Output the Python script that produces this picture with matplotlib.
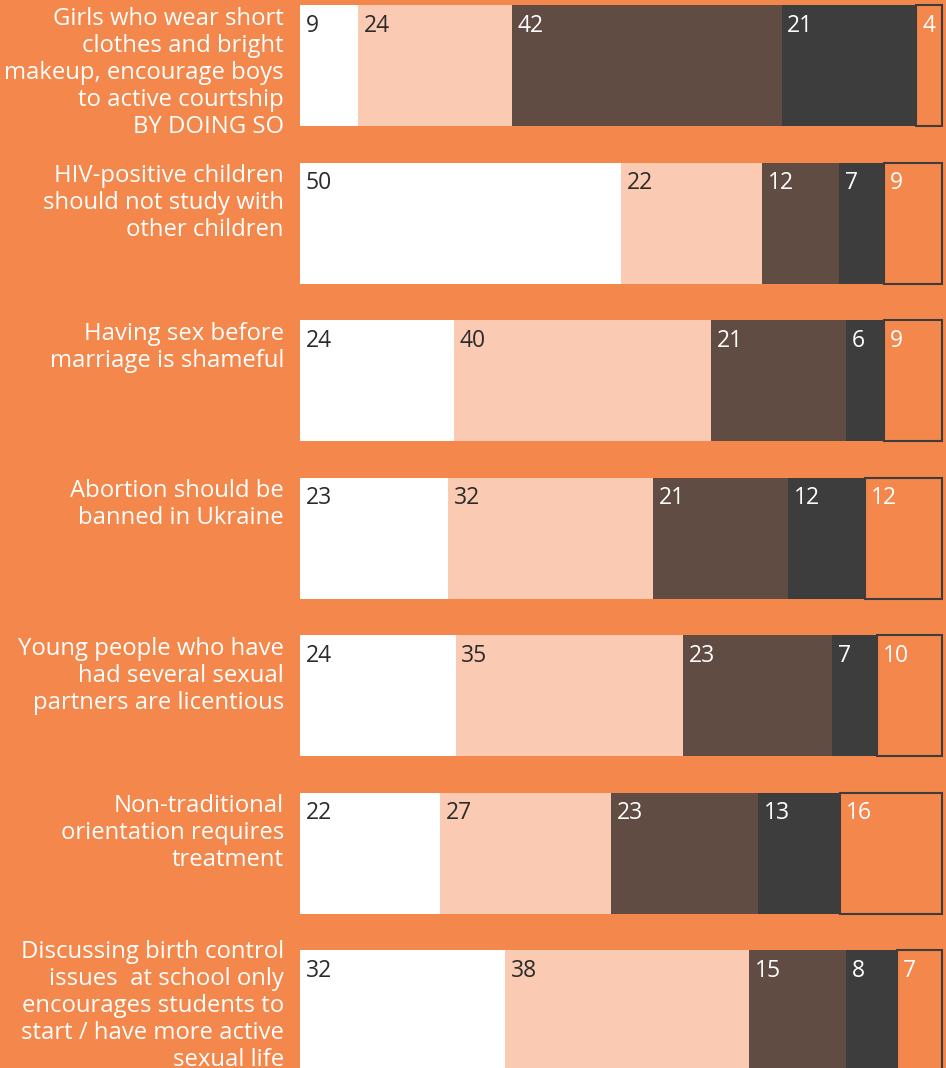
import matplotlib.pyplot as plt
import numpy as np

# data
statements = [
    "Girls who wear short\nclothes and bright\nmakeup, encourage boys\nto active courtship\nBY DOING SO",
    "HIV-positive children\nshould not study with\nother children",
    "Having sex before\nmarriage is shameful",
    "Abortion should be\nbanned in Ukraine",
    "Young people who have\nhad several sexual\npartners are licentious",
    "Non-traditional\norientation requires\ntreatment",
    "Discussing birth control\nissues  at school only\nencourages students to\nstart / have more active\nsexual life",
]
s1 = [9, 50, 24, 23, 24, 22, 32]
s2 = [24, 22, 40, 32, 35, 27, 38]
s3 = [42, 12, 21, 21, 23, 23, 15]
s4 = [21, 7, 6, 12, 7, 13, 8]
s5 = [4, 9, 9, 12, 10, 16, 7]

bg = '#F4874B'
colors = ['#FFFFFF', '#FACBB2', '#604C42', '#3D3D3D', bg]
txt_colors = ['#2B2B2B', '#2B2B2B', '#FFFFFF', '#FFFFFF', '#FFFFFF']

plt.rcParams['font.family'] = ['Open Sans', 'DejaVu Sans']

W, H = 946, 1068
fig = plt.figure(figsize=(W / 100, H / 100), dpi=100, facecolor=bg)
ax = fig.add_axes([0, 0, 1, 1])
ax.set_facecolor(bg)

# pixel geometry -> data coordinates
x0_px, unit_px = 300, 6.42
row_px, first_center_px, bar_px = 157.5, 65.5, 121
ax.set_xlim(-x0_px / unit_px, (W - x0_px) / unit_px)
ax.set_ylim((H - first_center_px) / row_px, -first_center_px / row_px)
ax.axis('off')

series = np.array([s1, s2, s3, s4, s5], dtype=float)
shares = series / series.sum(axis=0) * 100  # each bar spans the full width

y = np.arange(len(statements))
h = bar_px / row_px
left = np.zeros(len(statements))
for k in range(len(series)):
    w = shares[k]
    if k == 4:
        ax.barh(y, w, left=left, height=h, color=colors[k],
                edgecolor='#3D3D3D', linewidth=1.5)
    else:
        ax.barh(y, w, left=left, height=h, color=colors[k], linewidth=0)
    for yi, l, v in zip(y, left, series[k]):
        ax.text(l + 0.9, yi - h / 2 + 0.055, f"{int(v)}", ha='left', va='top',
                fontsize=16.5, color=txt_colors[k])
    left += w

# last label sits a little higher than the others in the original
label_shift = {6: -0.075}
for i, (yi, lab) in enumerate(zip(y, statements)):
    ax.text(-2.5, yi - h / 2 + 0.01 + label_shift.get(i, 0), lab,
            ha='right', va='top', fontsize=17.2, color='white',
            linespacing=1.17)

fig.savefig("out.png", dpi=100, facecolor=bg)
